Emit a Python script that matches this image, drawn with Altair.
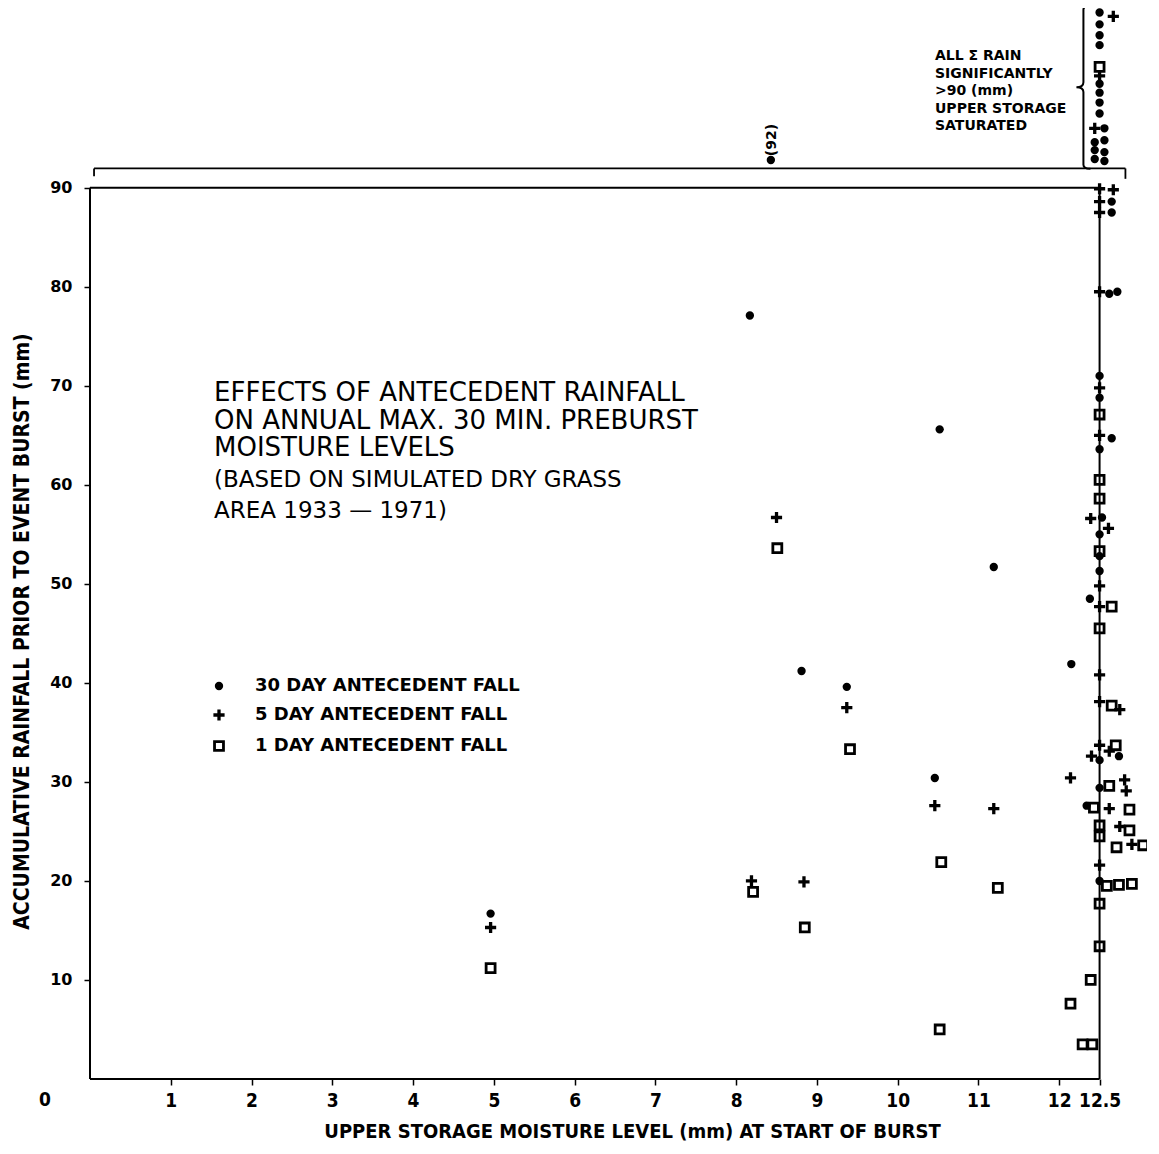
import altair as alt
import pandas as pd

# ---------------- data ----------------
SERIES = ["30 DAY ANTECEDENT FALL", "5 DAY ANTECEDENT FALL", "1 DAY ANTECEDENT FALL"]

day30_x = [4.96, 8.17, 8.81, 9.37, 10.46, 10.52, 11.19, 8.43,
           12.65, 12.65, 12.62, 12.72, 12.5, 12.5, 12.65, 12.5, 12.53, 12.5, 12.5, 12.5,
           12.38, 12.15, 12.74, 12.5, 12.5, 12.34, 12.5,
           12.5, 12.5, 12.5, 12.5, 12.5, 12.5, 12.5, 12.5, 12.56, 12.44, 12.56, 12.44,
           12.56, 12.44, 12.56]
day30_y = [16.7, 77.1, 41.2, 39.6, 30.4, 65.6, 51.7, 92.8,
           88.6, 87.5, 79.3, 79.5, 71.0, 68.8, 64.7, 63.6, 56.7, 55.0, 52.8, 51.3,
           48.5, 41.9, 32.6, 32.2, 29.4, 27.6, 20.0,
           107.7, 106.5, 105.4, 104.4, 100.5, 99.6, 98.6, 97.5, 96.0, 94.6, 94.8, 93.8,
           93.6, 92.9, 92.7]

day5_x = [4.96, 8.50, 8.19, 8.84, 9.37, 10.46, 11.19,
          12.5, 12.67, 12.5, 12.5, 12.5, 12.5, 12.5, 12.39, 12.61, 12.5, 12.5, 12.5,
          12.5, 12.75, 12.5, 12.62, 12.40, 12.14, 12.81, 12.83, 12.62, 12.75, 12.90, 12.5,
          12.67, 12.5, 12.44]
day5_y = [15.3, 56.7, 20.0, 19.9, 37.5, 27.6, 27.3,
          89.9, 89.8, 88.6, 87.5, 79.5, 69.8, 65.0, 56.6, 55.6, 49.8, 47.7, 40.8,
          38.1, 37.3, 33.7, 33.1, 32.6, 30.4, 30.2, 29.1, 27.3, 25.5, 23.7, 21.6,
          107.3, 101.3, 96.0]

day1_x = [4.96, 8.51, 8.21, 8.85, 9.41, 10.54, 10.52, 11.24,
          12.5, 12.5, 12.5, 12.5, 12.65, 12.5, 12.65, 12.70, 12.62, 12.43, 12.87, 12.5,
          12.87, 12.5, 12.71, 13.04, 12.59, 12.74, 12.90, 12.5, 12.5, 12.39, 12.14,
          12.29, 12.41,
          12.5]
day1_y = [11.2, 53.6, 18.9, 15.3, 33.3, 21.9, 5.0, 19.3,
          67.1, 60.5, 58.6, 53.3, 47.7, 45.5, 37.7, 33.7, 29.6, 27.4, 27.2, 25.6,
          25.1, 24.5, 23.4, 23.6, 19.5, 19.6, 19.7, 17.7, 13.4, 10.0, 7.6,
          3.5, 3.5,
          102.2]

x_ticks = [1, 2, 3, 4, 5, 6, 7, 8, 9, 10, 11, 12, 12.5]
y_ticks = [10, 20, 30, 40, 50, 60, 70, 80, 90]

title_lines = ["EFFECTS OF ANTECEDENT RAINFALL",
               "ON ANNUAL MAX. 30 MIN. PREBURST",
               "MOISTURE LEVELS"]
sub_lines = ["(BASED ON SIMULATED DRY GRASS", "AREA 1933 \u2014 1971)"]
note_lines = ["ALL \u03a3 RAIN", "SIGNIFICANTLY", ">90 (mm)", "UPPER STORAGE", "SATURATED"]

# ---------------- build table ----------------
rows = []
for name, xs_, ys_ in [(SERIES[0], day30_x, day30_y),
                       (SERIES[1], day5_x, day5_y),
                       (SERIES[2], day1_x, day1_y)]:
    rows += [{"x": a, "y": b, "series": name} for a, b in zip(xs_, ys_)]
df = pd.DataFrame(rows)
ONE = pd.DataFrame({"k": [0]})

SANS = "DejaVu Sans"
NARROW = "Liberation Sans Narrow, DejaVu Sans Condensed, Roboto Condensed, sans-serif"

W, H = 1054, 1070
XMAX, YMAX = 13.05, 108.05
xsc = alt.Scale(domain=[0, XMAX], nice=False, zero=False)
ysc = alt.Scale(domain=[0, YMAX], nice=False, zero=False)

PLUS = "M-1,0L1,0M0,-1L0,1"
BRACE = "M0.086,-1Q0,-1 0,-0.95L0,-0.06Q0,0 -0.086,0Q0,0 0,0.06L0,0.95Q0,1 0.086,1"

x_axis = alt.Axis(values=x_ticks, labelExpr="'' + datum.value", domain=False, grid=False,
                  tickSize=6, tickWidth=1.5, tickColor="black",
                  labelFont=NARROW, labelFontSize=19, labelFontWeight="bold",
                  labelColor="black", labelPadding=6, labelOverlap=False, labelFlush=False,
                  title="UPPER STORAGE MOISTURE LEVEL (mm) AT START OF BURST",
                  titleFont=NARROW, titleFontSize=20, titleFontWeight="bold",
                  titleColor="black", titleX=542, titleY=52,
                  titleAlign="center", titleBaseline="middle")
y_axis = alt.Axis(values=y_ticks, domain=False, grid=False,
                  tickSize=6, tickWidth=1.5, tickColor="black",
                  labelFont=SANS, labelFontSize=16, labelFontWeight="bold",
                  labelColor="black", labelPadding=12,
                  title="ACCUMULATIVE RAINFALL PRIOR TO EVENT BURST (mm)",
                  titleFont=NARROW, titleFontSize=21, titleFontWeight="bold",
                  titleColor="black", titleAngle=270, titleX=-68, titleY=622,
                  titleAlign="center", titleBaseline="middle")

legend = alt.Legend(title=None, orient="none", legendX=120, legendY=668,
                    labelFont=SANS, labelFontSize=18, labelFontWeight="bold",
                    labelColor="black", labelOffset=27, labelLimit=0, rowPadding=7,
                    padding=0, symbolOpacity=1)

points = alt.Chart(df).mark_point(filled=False, opacity=1).encode(
    x=alt.X("x:Q", scale=xsc, axis=x_axis),
    y=alt.Y("y:Q", scale=ysc, axis=y_axis),
    color=alt.Color("series:N", scale=alt.Scale(domain=SERIES, range=["black", "black", "black"]),
                    legend=legend),
    shape=alt.Shape("series:N", scale=alt.Scale(domain=SERIES, range=["circle", PLUS, "square"]),
                    legend=legend),
    fill=alt.Fill("series:N", scale=alt.Scale(domain=SERIES, range=["black", "transparent", "transparent"]),
                  legend=legend),
    size=alt.Size("series:N", scale=alt.Scale(type="ordinal", domain=SERIES, range=[38, 125, 80]),
                  legend=legend),
    strokeWidth=alt.StrokeWidth("series:N",
                                scale=alt.Scale(type="ordinal", domain=SERIES, range=[2.2, 3.3, 2.8]),
                                legend=legend),
)


def hseg(y, x1, x2, sw=2.0):
    return alt.Chart(ONE).mark_rule(color="black", strokeWidth=sw).encode(
        y=alt.YDatum(y, scale=ysc, axis=y_axis),
        x=alt.XDatum(x1, scale=xsc, axis=x_axis),
        x2=alt.X2Datum(x2))


def vseg(x, y1, y2, sw=2.0):
    return alt.Chart(ONE).mark_rule(color="black", strokeWidth=sw).encode(
        x=alt.XDatum(x, scale=xsc, axis=x_axis),
        y=alt.YDatum(y1, scale=ysc, axis=y_axis),
        y2=alt.Y2Datum(y2))


def label(txt, px, py, size, weight="normal", font=SANS, angle=0, align="left"):
    return alt.Chart(ONE).mark_text(text=txt, font=font, fontSize=size, fontWeight=weight,
                                    align=align, baseline="middle", angle=angle,
                                    color="black").encode(
        x=alt.value(px), y=alt.value(py))


frame = [
    hseg(0, 0, 12.5), hseg(90, 0, 12.5),
    vseg(0, 0, 90), vseg(12.5, 0, 90),
    hseg(91.95, 0.05, 12.82, 1.8),
    vseg(0.05, 91.15, 91.95, 1.8), vseg(12.82, 90.9, 91.95, 1.8),
]

brace = alt.Chart(ONE).mark_point(shape=BRACE, size=26569, filled=False, stroke="black",
                                  strokeWidth=2, opacity=1).encode(
    x=alt.XDatum(12.30, scale=xsc, axis=x_axis),
    y=alt.YDatum(100.15, scale=ysc, axis=y_axis))

texts = []
for i, t in enumerate(title_lines):
    texts.append(label(t, 124, 384 + 27.5 * i, 26))
for i, t in enumerate(sub_lines):
    texts.append(label(t, 124, 471 + 31 * i, 23))
for i, t in enumerate(note_lines):
    texts.append(label(t, 845, 47 + 17.5 * i, 14, weight="bold"))
texts.append(label("(92)", 682, 131, 14, weight="bold", angle=270, align="center"))
texts.append(label("0", -45, 1091, 19, weight="bold", font=NARROW, align="center"))

chart = alt.layer(*frame, brace, points, *texts).properties(
    width=W, height=H,
    autosize=alt.AutoSizeParams(type="none"),
    padding={"left": 82, "top": 1, "right": 3, "bottom": 63},
    background="white",
).configure_view(stroke=None)

chart.save("out.html", embed_options={"renderer": "svg", "actions": False})
